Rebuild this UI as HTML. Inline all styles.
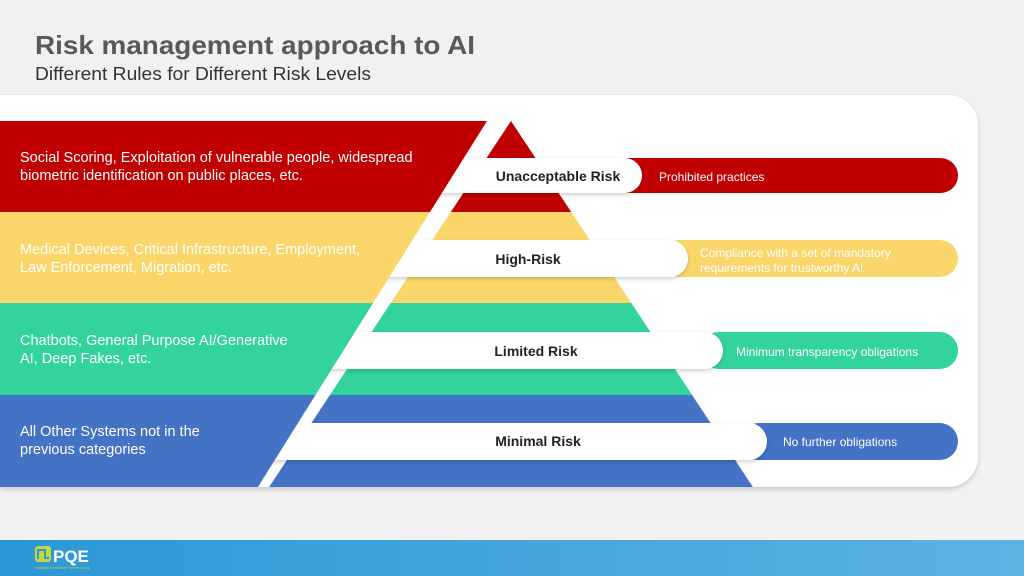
<!DOCTYPE html>
<html><head><meta charset="utf-8"><style>
html,body{margin:0;padding:0;width:1024px;height:576px;overflow:hidden;background:#f1f1f1;}
svg{display:block;font-family:"Liberation Sans",sans-serif;}
</style></head><body>
<svg width="1024" height="576" viewBox="0 0 1024 576">
<defs>
<linearGradient id="bar" x1="0" x2="1" y1="0" y2="0"><stop offset="0" stop-color="#2a98d6"/><stop offset="1" stop-color="#5db2e2"/></linearGradient>
<filter id="sh" x="-5%" y="-20%" width="110%" height="150%"><feDropShadow dx="0" dy="2" stdDeviation="2" flood-color="#000" flood-opacity="0.18"/></filter>
</defs>
<rect width="1024" height="576" fill="#f1f1f1"/>
<text x="35" y="54" font-size="26" font-weight="bold" fill="#595959" textLength="440" lengthAdjust="spacingAndGlyphs">Risk management approach to AI</text>
<text x="35" y="80" font-size="18" fill="#333" textLength="336" lengthAdjust="spacingAndGlyphs">Different Rules for Different Risk Levels</text>
<path d="M0 95 H948 A30 30 0 0 1 978 125 V457 A30 30 0 0 1 948 487 H0 Z" fill="#fff" filter="url(#sh)"/>
<polygon points="511,121 571.2,212 450.8,212" fill="#c00000"/>
<polygon points="450.8,212 571.2,212 631.3,303 390.7,303" fill="#fad66a"/>
<polygon points="390.7,303 631.3,303 692.1,395 329.9,395" fill="#33d39f"/>
<polygon points="329.9,395 692.1,395 752.9,487 269.1,487" fill="#4472c4"/>
<rect x="610" y="158" width="348" height="35" rx="17.5" fill="#c00000"/>
<rect x="660" y="240" width="298" height="37" rx="18.5" fill="#fad66a"/>
<rect x="700" y="332" width="258" height="37" rx="18.5" fill="#33d39f"/>
<rect x="740" y="423" width="218" height="37" rx="18.5" fill="#4472c4"/>
<rect x="380" y="158" width="262" height="35" rx="17.5" fill="#fff" filter="url(#sh)"/>
<rect x="340" y="240" width="348" height="37" rx="18.5" fill="#fff" filter="url(#sh)"/>
<rect x="300" y="332" width="423" height="37" rx="18.5" fill="#fff" filter="url(#sh)"/>
<rect x="240" y="423" width="527" height="37" rx="18.5" fill="#fff" filter="url(#sh)"/>
<g font-size="14" font-weight="bold" fill="#222" text-anchor="middle">
<text x="558" y="181">Unacceptable Risk</text>
<text x="528" y="264">High-Risk</text>
<text x="536" y="356">Limited Risk</text>
<text x="538" y="446">Minimal Risk</text>
</g>
<g font-size="12" fill="#fff">
<text x="659" y="181">Prohibited practices</text>
<text x="700" y="257">Compliance with a set of mandatory</text>
<text x="700" y="272">requirements for trustworthy AI</text>
<text x="736" y="356">Minimum transparency obligations</text>
<text x="783" y="446">No further obligations</text>
</g>
<polygon points="0,121 487,121 430,212 0,212" fill="#c00000"/>
<polygon points="0,212 430,212 373.1,303 0,303" fill="#fad66a"/>
<polygon points="0,303 373.1,303 315.5,395 0,395" fill="#33d39f"/>
<polygon points="0,395 315.5,395 257.9,487 0,487" fill="#4472c4"/>
<g font-size="14.5" fill="#fff">
<text x="20" y="162">Social Scoring, Exploitation of vulnerable people, widespread</text>
<text x="20" y="180">biometric identification on public places, etc.</text>
<text x="20" y="254">Medical Devices, Critical Infrastructure, Employment,</text>
<text x="20" y="272">Law Enforcement, Migration, etc.</text>
<text x="20" y="345">Chatbots, General Purpose AI/Generative</text>
<text x="20" y="363">AI, Deep Fakes, etc.</text>
<text x="20" y="436">All Other Systems not in the</text>
<text x="20" y="454">previous categories</text>
</g>
<rect x="0" y="540" width="1024" height="36" fill="url(#bar)"/>
<rect x="35" y="546" width="16" height="16" rx="3" fill="#c8d63a"/>
<path d="M38 559 V550 H45 V558 H49" stroke="#2a98d6" stroke-width="2" fill="none"/>
<text x="53" y="562" font-size="17" font-weight="bold" fill="#fff">PQE</text>
<text x="35" y="569" font-size="3.5" fill="#c8d63a">Industrial Excellence Partner Group</text>
</svg>
</body></html>
